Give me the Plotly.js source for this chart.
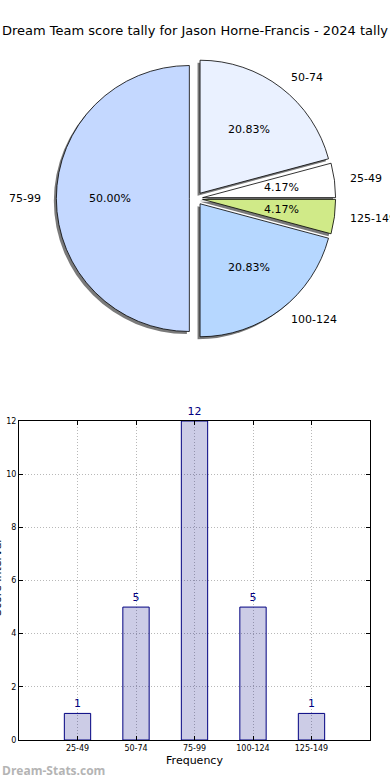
<!DOCTYPE html>
<html>
<head>
<meta charset="utf-8">
<script src="https://cdn.plot.ly/plotly-3.0.1.min.js"></script>
<style>html,body{margin:0;padding:0;background:#fff;}#chart{width:390px;height:780px;}</style>
</head>
<body>
<div id="chart"></div>
<script>
// ---- data ----
var pieLabels = ["50-74", "25-49", "125-149", "100-124", "75-99"];
var pieValues = [5, 1, 1, 5, 12];
var pieColors = ["#eaf1ff", "#ffffff", "#d0ea88", "#b6d7ff", "#c4d8ff"];

var barCategories = ["25-49", "50-74", "75-99", "100-124", "125-149"];
var barValues = [1, 5, 12, 5, 1];

var titleText = "Dream Team score tally for Jason Horne-Francis - 2024 tally";

// ---- geometry (styling) ----
var W = 390, H = 780;
var pieCx = 196, pieCy = 198.5, pieR = 133, pull = 0.05;
var half = pieR * (1 + pull);
function px2x(p){ return p / W; }
function px2y(p){ return 1 - p / H; }
var pieDomain = {x:[px2x(pieCx - half), px2x(pieCx + half)], y:[px2y(pieCy + half), px2y(pieCy - half)]};
var sh = 2.5;
var shadowDomain = {x:[px2x(pieCx - half - sh), px2x(pieCx + half - sh)], y:[px2y(pieCy + half + sh), px2y(pieCy - half + sh)]};

var font = "DejaVu Sans, sans-serif";
var pulls = pieValues.map(function(){ return pull; });

var shadow = {
  type: "pie", values: pieValues, labels: pieLabels, sort: false, direction: "clockwise", rotation: 0,
  pull: pulls, domain: shadowDomain, textinfo: "none", hoverinfo: "skip", showlegend: false,
  marker: {colors: pieValues.map(function(){ return "#7a7a7a"; }), line: {width: 0}}
};
var pie = {
  type: "pie", values: pieValues, labels: pieLabels, sort: false, direction: "clockwise", rotation: 0,
  pull: pulls, domain: pieDomain, textinfo: "none", showlegend: false,
  marker: {colors: pieColors, line: {color: "#000", width: 0.8}}
};

// labels & percentages placed like matplotlib (labeldistance 1.1, pctdistance 0.6)
var annotations = [];
var total = pieValues.reduce(function(a,b){return a+b;}, 0);
var cum = 0;
for (var i = 0; i < pieValues.length; i++) {
  var mid = 90 - (cum + pieValues[i] / 2) / total * 360; // degrees, from +x, counterclockwise
  cum += pieValues[i];
  var t = mid * Math.PI / 180, c = Math.cos(t), s = Math.sin(t);
  var lx = pieCx + (pull + 1.1) * pieR * c, ly = pieCy - (pull + 1.1) * pieR * s;
  var px = pieCx + (pull + 0.6) * pieR * c, py = pieCy - (pull + 0.6) * pieR * s;
  annotations.push({xref:"paper", yref:"paper", x: px2x(lx), y: px2y(ly), text: pieLabels[i],
    showarrow:false, xanchor: c >= 0 ? "left" : "right", yanchor:"middle", font:{family:font, size:11, color:"#000"}});
  annotations.push({xref:"paper", yref:"paper", x: px2x(px), y: px2y(py),
    text: (pieValues[i] / total * 100).toFixed(2) + "%",
    showarrow:false, xanchor:"center", yanchor:"middle", font:{family:font, size:11, color:"#000"}});
}

annotations.push({xref:"paper", yref:"paper", x: px2x(-3), y: px2y(578), text:"Score Interval", textangle:-90,
  showarrow:false, xanchor:"center", yanchor:"middle", font:{family:font, size:11, color:"#000"}});
annotations.push({xref:"paper", yref:"paper", x: 0, y: px2y(770), text:"<b>Dream-Stats.com</b>",
  showarrow:false, xanchor:"left", yanchor:"middle", font:{family:"Open Sans, sans-serif", size:12, color:"#b4b4b4"}});

var bars = {
  type: "bar", x: barCategories, y: barValues, width: 0.45,
  marker: {color: "rgba(0,0,128,0.2)", line: {color: "#000080", width: 1}},
  text: barValues.map(String), textposition: "outside", cliponaxis: false,
  textfont: {family: font, size: 11, color: "#000080"},
  xaxis: "x", yaxis: "y", showlegend: false, hoverinfo: "x+y"
};

var layout = {
  width: W, height: H, margin: {l:0, r:0, t:0, b:0}, paper_bgcolor: "#fff", plot_bgcolor: "#fff",
  showlegend: false,
  title: {text: titleText, x: 0.5, xanchor: "center", y: px2y(30), yanchor: "middle", font: {family: font, size: 13, color: "#000"}},
  xaxis: {domain: [px2x(19), px2x(370)], anchor: "y", range: [-1, 5], type: "category",
    showline: true, linecolor: "#000", linewidth: 1, mirror: "allticks",
    ticks: "inside", ticklen: 4, tickcolor: "#000",
    showgrid: true, gridcolor: "#b8b8b8", griddash: "1px,2px", gridwidth: 1,
    tickfont: {family: font, size: 8, color: "#000"},
    title: {text: "Frequency", font: {family: font, size: 11, color: "#000"}, standoff: 4},
    automargin: false, zeroline: false, fixedrange: true},
  yaxis: {domain: [px2y(740), px2y(421)], anchor: "x", range: [0, 12], dtick: 2,
    showline: true, linecolor: "#000", linewidth: 1, mirror: "allticks",
    ticks: "inside", ticklen: 4, tickcolor: "#000",
    showgrid: true, gridcolor: "#b8b8b8", griddash: "1px,2px", gridwidth: 1,
    tickfont: {family: font, size: 8, color: "#000"},
    automargin: false, zeroline: false, fixedrange: true},
  bargap: 0,
  annotations: annotations
};

Plotly.newPlot("chart", [shadow, pie, bars], layout, {displayModeBar: false, staticPlot: true});
</script>
</body>
</html>
